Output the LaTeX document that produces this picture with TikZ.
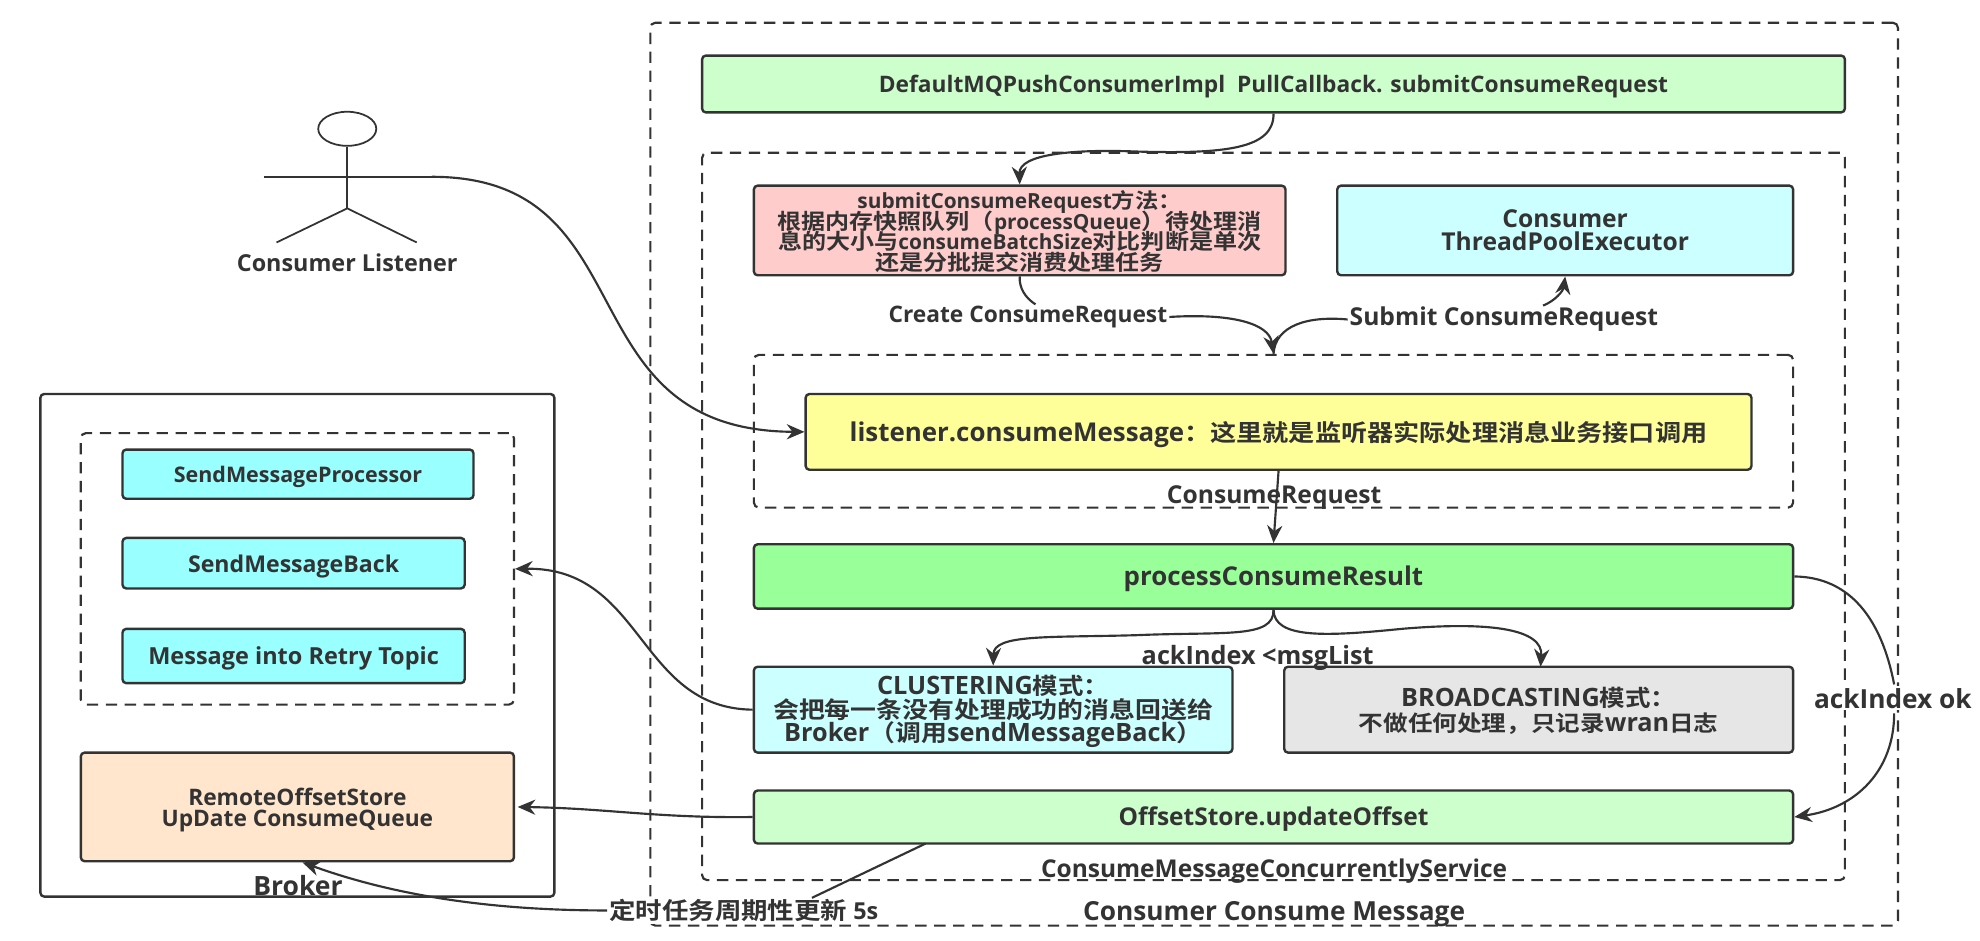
\documentclass[tikz,border=0pt]{standalone}
\usepackage{fontspec}
\usetikzlibrary{arrows.meta,shapes.geometric}
\setmainfont{Open Sans}[BoldFont={Open Sans Bold}]
\newfontfamily\cnfont{Noto Sans CJK SC}[BoldFont={Noto Sans CJK SC Bold},BoldFeatures={FakeStretch=1.12}]
% \ft{size}{leading} is the node font, with tight stacked lines; \cn{size}{text} sets Chinese runs
\newcommand{\ft}[2]{\bfseries\fontsize{#1}{#2}\selectfont\lineskiplimit=-30pt\relax}
\newcommand{\cn}[2]{{\cnfont\bfseries\fontsize{#1}{#1}\selectfont #2}}
% extra head room on a first line moves a stacked label down inside its box
\newcommand{\headroom}[1]{\rule{0pt}{#1}}
\definecolor{ink}{HTML}{333333}
\definecolor{mintbox}{HTML}{CCFFCC}
\definecolor{rosebox}{HTML}{FFCCCC}
\definecolor{icebox}{HTML}{CCFFFF}
\definecolor{lemonbox}{HTML}{FFFF99}
\definecolor{limebox}{HTML}{99FF99}
\definecolor{greybox}{HTML}{E6E6E6}
\definecolor{aquabox}{HTML}{99FFFF}
\definecolor{peachbox}{HTML}{FFE6CC}
\tikzset{
  x=1pt,y=-1pt,
  every node/.style={text=ink,font=\bfseries,align=center,inner sep=0pt},
  solidbox/.style={draw=ink,line width=1.9pt,rounded corners=3pt},
  oneline/.style={text height=#1,text depth=0pt},
  dashbox/.style={draw=ink,line width=1.7pt,rounded corners=4pt,dash pattern=on 9pt off 6pt},
  lbl/.style={fill=white,inner sep=1.5pt},
  link/.style={draw=ink,line width=1.7pt},
  arrowed/.style={link,-{Stealth[length=14pt,width=12pt]}},
  figure/.style={draw=ink,line width=1.4pt}
}
\begin{document}
\begin{tikzpicture}
\useasboundingbox (0,0) rectangle (1568,745);

% containers
\node[dashbox,minimum width=988pt,minimum height=715pt] (outer) at (1009,375.5) {};
\node[dashbox,minimum width=905pt,minimum height=576pt] (service) at (1008.5,409) {};
\node[dashbox,minimum width=823pt,minimum height=121pt] (crequest) at (1008.5,341.5) {};
\node[solidbox,minimum width=407pt,minimum height=398pt] (broker) at (235.5,511) {};
\node[dashbox,minimum width=343pt,minimum height=215pt] (brokerdash) at (235.5,450.5) {};

% consumer-side boxes
\node[solidbox,fill=mintbox,minimum width=905pt,minimum height=45pt,font=\ft{18}{20},oneline=14pt] (push) at (1008.5,66.5)
  {DefaultMQPushConsumerImpl\ \ PullCallback. submitConsumeRequest};
\node[solidbox,fill=rosebox,minimum width=421pt,minimum height=71pt,font=\ft{16.5}{16.5}] (submitm) at (807.5,182.5)
  {\headroom{16pt}submitConsumeRequest\cn{16.5}{方法：}\\
   \cn{17}{根据内存快照队列（}processQueue\cn{17}{）待处理消}\\
   \cn{17}{息的大小与}consumeBatchSize\cn{17}{对比判断是单次}\\
   \cn{17}{还是分批提交消费处理任务}};
\node[solidbox,fill=icebox,minimum width=361pt,minimum height=71pt,font=\ft{19.5}{18}] (pool) at (1239.5,182.5)
  {Consumer\\ThreadPoolExecutor};
\node[solidbox,fill=lemonbox,minimum width=749pt,minimum height=60pt,font=\ft{20.5}{22},oneline=15pt] (listener) at (1012.5,342)
  {listener.consumeMessage\cn{18.5}{：这里就是监听器实际处理消息业务接口调用}};
\node[solidbox,fill=limebox,minimum width=823pt,minimum height=51pt,font=\ft{20.5}{22},oneline=15pt] (result) at (1008.5,456.5)
  {processConsumeResult};
\node[solidbox,fill=icebox,minimum width=379pt,minimum height=68pt,font=\ft{20}{18.5}] (cluster) at (786.5,562)
  {\headroom{18pt}CLUSTERING\cn{18}{模式：}\\
   \cn{18.3}{会把每一条没有处理成功的消息回送给}\\
   Broker\cn{18.3}{（调用}sendMessageBack\cn{18.3}{）}};
\node[solidbox,fill=greybox,minimum width=403pt,minimum height=68pt,font=\ft{20}{20}] (broadcast) at (1218.5,562)
  {\headroom{17pt}BROADCASTING\cn{18}{模式：}\\\cn{17.4}{不做任何处理，只记录}wran\cn{17.4}{日志}};
\node[solidbox,fill=mintbox,minimum width=823pt,minimum height=42pt,font=\ft{19.4}{20},oneline=14pt] (offset) at (1008.5,647)
  {OffsetStore.updateOffset};

% broker-side boxes
\node[solidbox,fill=aquabox,minimum width=278pt,minimum height=39pt,font=\ft{17}{19},oneline=13pt] (sendproc) at (236,375.5)
  {SendMessageProcessor};
\node[solidbox,fill=aquabox,minimum width=271pt,minimum height=40pt,font=\ft{18.3}{19},oneline=14pt] (sendback) at (232.5,446)
  {SendMessageBack};
\node[solidbox,fill=aquabox,minimum width=271pt,minimum height=43pt,font=\ft{18.6}{19},oneline=14pt] (retry) at (232.5,519.5)
  {Message into Retry Topic};
\node[solidbox,fill=peachbox,minimum width=343pt,minimum height=86pt,font=\ft{18}{17}] (remote) at (235.5,639)
  {\headroom{19pt}RemoteOffsetStore\\UpDate ConsumeQueue};

% container captions
\node[font=\ft{20.8}{22}] (outercap) at (1009,724) {Consumer Consume Message};
\node[font=\ft{19.4}{22}] (servicecap) at (1009,690) {ConsumeMessageConcurrentlyService};
\node[font=\ft{19.5}{22}] (crequestcap) at (1009,394) {ConsumeRequest};
\node[font=\ft{21}{22}] (brokercap) at (236,701) {Broker};

% stick figure
\node[draw=ink,line width=1.4pt,ellipse,minimum width=46pt,minimum height=27pt] (head) at (275,102) {};
\coordinate (hip) at (275,165);
\coordinate (armL) at (209,140);
\coordinate (armR) at (342,140);
\coordinate (legL) at (219,192);
\coordinate (legR) at (330,192);
\draw[figure] (head.south) -- (hip);
\draw[figure] (armL) -- (armR);
\draw[figure] (legL) -- (hip) -- (legR);
\node[font=\ft{18.5}{20}] (actorlbl) at (275,208) {Consumer Listener};

% labels that interrupt a connector
\node[lbl,font=\ft{18}{20}] (createlbl) at (814,251) {Create ConsumeRequest};
\node[lbl,font=\ft{19.5}{20}] (submitlbl) at (1191,253) {Submit ConsumeRequest};
\node[font=\ft{20}{20}] (acklbl) at (996,521) {ackIndex <msgList};
\node[lbl,font=\ft{20.8}{22}] (okfix) at (1499,553) {ackIndex ok};
\node[lbl,font=\ft{18.5}{20}] (timerlbl) at (589,721) {\cn{18.7}{定时任务周期性更新} 5s};
\coordinate (offtap) at (733,668);

% connectors
\draw[arrowed] (push.south) .. controls (1009,118) and (970,122) .. (900,120)
  .. controls (850,118) and (807,122) .. (submitm.north);
\draw[link] (submitm.south) .. controls (807,228) and (812,236) .. (820,241);
\draw[arrowed] (createlbl.east) .. controls (975,248) and (1005,256) .. (crequest.north);
\draw[link] (submitlbl.west) .. controls (1035,250) and (1010,258) .. (crequest.north);
\draw[arrowed] (1222,242) .. controls (1232,238) and (1238,230) .. (pool.south);
\draw[arrowed] (armR) .. controls (515,140) and (445,341) .. (listener.west);
\draw[arrowed] (listener.south) -- (result.north);
\draw[arrowed] (result.south) .. controls (1009,506) and (970,500) .. (900,503)
  .. controls (830,505) and (787,502) .. (cluster.north);
\draw[arrowed] (result.south) .. controls (1009,506) and (1050,504) .. (1110,498)
  .. controls (1180,492) and (1222,498) .. (1220,528);
\draw[link] (result.east) .. controls (1465,457) and (1490,490) .. (1500,542);
\draw[arrowed] (1500,565) .. controls (1500,610) and (1470,640) .. (offset.east);
\draw[arrowed] (cluster.west) .. controls (505,561) and (510,449) .. (brokerdash.east);
\draw[arrowed,shorten >=2pt] (offset.west) .. controls (520,648) and (480,640) .. (remote.east);
\draw[link] (offtap) -- (643,711);
\draw[arrowed] (timerlbl.west) .. controls (400,721) and (320,712) .. ([xshift=4pt]remote.south);
\end{tikzpicture}
\end{document}
